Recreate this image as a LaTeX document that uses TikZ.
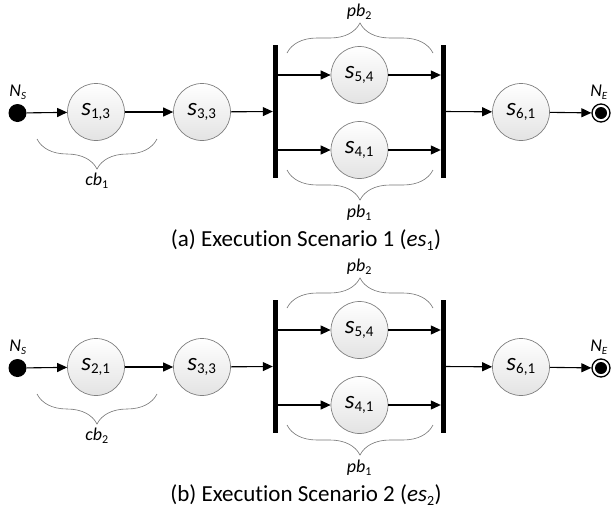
\documentclass[tikz,border=0pt]{standalone}
\usepackage{fontspec}
\setmainfont{Carlito}[RawFeature={-liga,-clig,-dlig}]
\usetikzlibrary{arrows.meta,decorations.pathreplacing,calc}
\tikzset{
  svc/.style={circle,draw=black!50,line width=0.7pt,top color=white,bottom color=black!11,minimum size=57pt,inner sep=0pt,font=\fontsize{25}{27}\selectfont},
  bar/.style={rectangle,fill=black,minimum width=5pt,minimum height=133pt,inner sep=0pt},
  flow/.style={line width=1.1pt,-{Triangle[length=10pt,width=9pt]}},
  startnode/.style={circle,fill=black,minimum size=18pt,inner sep=0pt},
  endnode/.style={circle,draw=black,line width=1.3pt,fill=white,minimum size=18pt,inner sep=0pt,
    path picture={\fill[black] (path picture bounding box.center) circle (6pt);}},
  brc/.style={draw=black!55,line width=0.6pt,decorate,decoration={brace,amplitude=30pt}},
  lbl/.style={font=\fontsize{18}{20}\selectfont\itshape,inner sep=0pt},
  captext/.style={font=\fontsize{23}{25}\selectfont,inner sep=0pt}
}
\newcommand\svctext[2]{\textit{#1}\textsubscript{\fontsize{15}{17}\selectfont #2}}
\newcommand\drawscen[5]{%
\begin{scope}[yshift=#2]
  \node[startnode] (#1ns) at (17.5,113) {};
  \node[lbl] (#1nsl) at (18,92) {N\textsubscript{\fontsize{11}{12}\selectfont S}};
  \node[svc] (#1s1) at (96,112) {\svctext{s}{#3}};
  \node[svc] (#1s33) at (202,112) {\svctext{s}{3,3}};
  \node[bar] (#1bara) at (275.5,111.5) {};
  \node[svc] (#1s54) at (359.5,75) {\svctext{s}{5,4}};
  \node[svc] (#1s41) at (359.5,150) {\svctext{s}{4,1}};
  \node[bar] (#1barb) at (443.5,111.5) {};
  \node[svc] (#1s61) at (521,112) {\svctext{s}{6,1}};
  \node[endnode] (#1ne) at (601,113) {};
  \node[lbl] (#1nel) at (599,92) {N\textsubscript{\fontsize{11}{12}\selectfont E}};
  \draw[flow] (#1ns) -- (#1s1);
  \draw[flow] (#1s1) -- (#1s33);
  \draw[flow] (#1s33) -- (#1bara);
  \draw[flow] (#1bara.east |- #1s54) -- (#1s54);
  \draw[flow] (#1bara.east |- #1s41) -- (#1s41);
  \draw[flow] (#1s54) -- (#1barb.west |- #1s54);
  \draw[flow] (#1s41) -- (#1barb.west |- #1s41);
  \draw[flow] (#1barb) -- (#1s61);
  \draw[flow] (#1s61) -- (#1ne);
  \coordinate (#1cbr) at (157,139);
  \coordinate (#1cbl) at (37,139);
  \draw[brc] (#1cbr) -- (#1cbl);
  \node[lbl] (#1cbt) at (97,181) {cb\textsubscript{\upshape\fontsize{12}{13}\selectfont #4}};
  \coordinate (#1pbtl) at (287,53);
  \coordinate (#1pbtr) at (433,53);
  \draw[brc] (#1pbtl) -- (#1pbtr);
  \node[lbl] (#1pbtt) at (359.5,12) {pb\textsubscript{\upshape\fontsize{12}{13}\selectfont 2}};
  \coordinate (#1pbbl) at (287,170);
  \coordinate (#1pbbr) at (433,170);
  \draw[brc] (#1pbbr) -- (#1pbbl);
  \node[lbl] (#1pbbt) at (359.5,213) {pb\textsubscript{\upshape\fontsize{12}{13}\selectfont 1}};
  \node[captext] (#1cap) at (306,240) {#5};
\end{scope}}
\begin{document}
\begin{tikzpicture}[x=1pt,y=-1pt]
\useasboundingbox (0,0) rectangle (611,517);
\drawscen{a}{0pt}{1,3}{1}{(a) Execut\kern0pt ion Scenario 1 (\textit{es}\textsubscript{\fontsize{14}{15}\selectfont 1})}
\drawscen{b}{-255pt}{2,1}{2}{(b) Execut\kern0pt ion Scenario 2 (\textit{es}\textsubscript{\fontsize{14}{15}\selectfont 2})}
\end{tikzpicture}
\end{document}
